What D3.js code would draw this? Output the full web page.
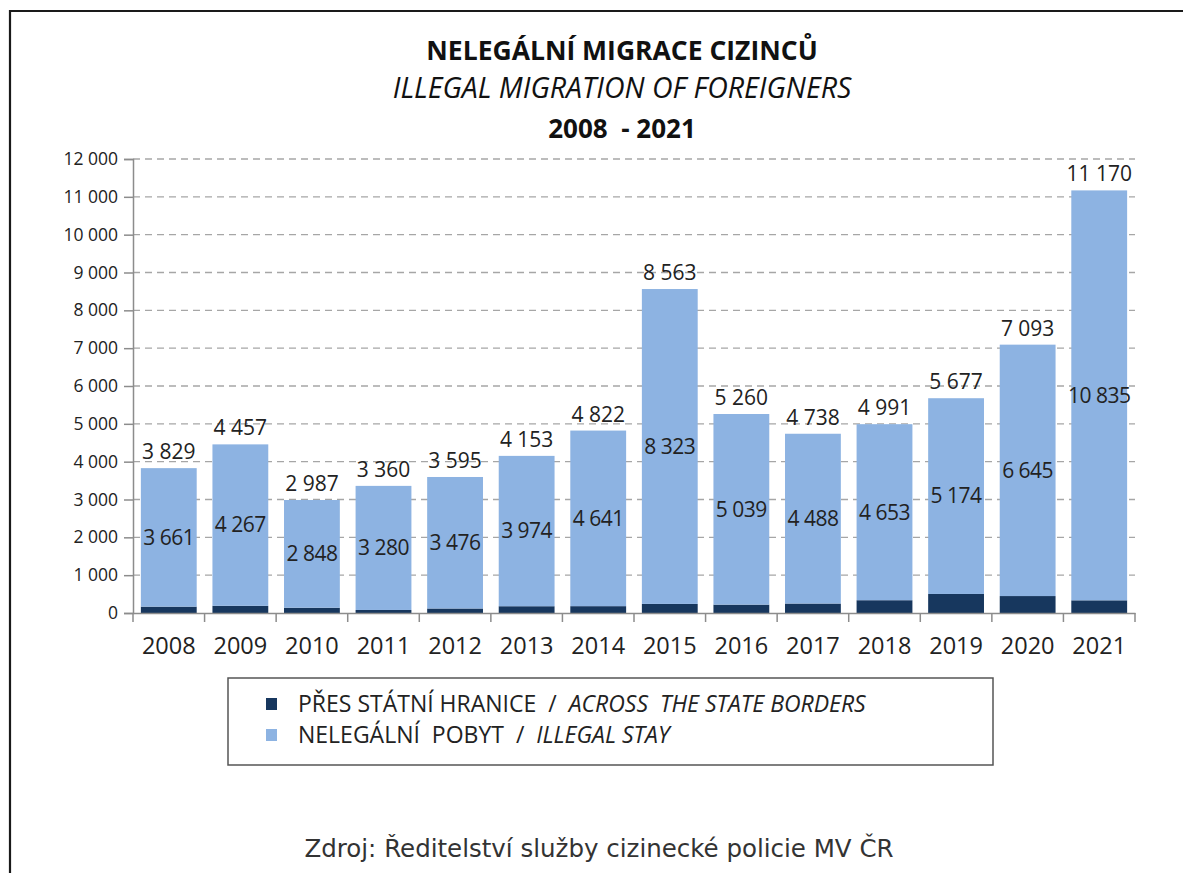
<!DOCTYPE html>
<html>
<head>
<meta charset="utf-8">
<script src="https://cdn.jsdelivr.net/npm/d3@7"></script>
<style>
  body { margin: 0; background: #fff; }
  svg { display: block; }
  .title { font-family: "Open Sans", sans-serif; fill: #111; white-space: pre; }
  .axisLabels { font-family: "Open Sans", sans-serif; fill: #222; }
  .barLabel { font-family: "Open Sans", sans-serif; font-size: 21px; fill: #222; }
  .legendText { font-family: "Open Sans", sans-serif; font-size: 23px; fill: #222; white-space: pre; }
  .source { font-family: "DejaVu Sans", sans-serif; font-size: 24.5px; fill: #333; }
</style>
</head>
<body>
<div id="chart"></div>
<script>
// data
var years = ["2008", "2009", "2010", "2011", "2012", "2013", "2014", "2015", "2016", "2017", "2018", "2019", "2020", "2021"];
var totals = [3829, 4457, 2987, 3360, 3595, 4153, 4822, 8563, 5260, 4738, 4991, 5677, 7093, 11170];
var illegalStay = [3661, 4267, 2848, 3280, 3476, 3974, 4641, 8323, 5039, 4488, 4653, 5174, 6645, 10835];
var yTicks = [0, 1000, 2000, 3000, 4000, 5000, 6000, 7000, 8000, 9000, 10000, 11000, 12000];
var seriesNames = [
  ["PŘES STÁTNÍ HRANICE", "ACROSS  THE STATE BORDERS"],
  ["NELEGÁLNÍ  POBYT", "ILLEGAL STAY"]
];
var colors = ["#17375e", "#8db3e2"];

var width = 1183, height = 873;
var margin = { top: 159, right: 48, bottom: 260, left: 133 };
var plotW = width - margin.left - margin.right;
var plotH = height - margin.top - margin.bottom;

var cz = d3.formatLocale({ decimal: ",", thousands: " ", grouping: [3], currency: ["", ""] });
var fmt = cz.format(",d");

// build stacked rows: borders = total - illegal stay
var data = years.map(function(y, i) {
  return { year: y, borders: totals[i] - illegalStay[i], stay: illegalStay[i], total: totals[i] };
});

var svg = d3.select("#chart").append("svg")
  .attr("width", width)
  .attr("height", height);

// outer frame (cut at right and bottom)
svg.append("path")
  .attr("d", "M10," + height + "V11H" + width)
  .attr("fill", "none")
  .attr("stroke", "#1a1a1a")
  .attr("stroke-width", 2.2);

var g = svg.append("g")
  .attr("transform", "translate(" + margin.left + "," + margin.top + ")");

var x = d3.scaleBand().domain(years).range([0, plotW]).paddingInner(0.22).paddingOuter(0.11);
var y = d3.scaleLinear().domain([0, 12000]).range([plotH, 0]);

// gridlines
g.append("g")
  .selectAll("line")
  .data(yTicks.slice(1))
  .enter().append("line")
    .attr("x1", 0)
    .attr("x2", plotW)
    .attr("y1", function(d) { return y(d); })
    .attr("y2", function(d) { return y(d); })
    .attr("stroke", "#a6a6a6")
    .attr("stroke-width", 1.3)
    .attr("stroke-dasharray", "7,5");

var stack = d3.stack().keys(["borders", "stay"]);
var series = stack(data);

g.append("g")
  .selectAll("g")
  .data(series)
  .enter().append("g")
    .attr("fill", function(d, i) { return colors[i]; })
  .selectAll("rect")
  .data(function(d) { return d; })
  .enter().append("rect")
    .attr("x", function(d) { return x(d.data.year); })
    .attr("width", x.bandwidth())
    .attr("y", function(d) { return y(d[1]); })
    .attr("height", function(d) { return y(d[0]) - y(d[1]); });

// Y axis
var yAxis = g.append("g")
  .attr("class", "yaxis")
  .call(d3.axisLeft(y).tickValues(yTicks).tickFormat(fmt).tickSize(9).tickPadding(6));
yAxis.select(".domain").attr("stroke", "#8c8c8c").attr("stroke-width", 1.5);
yAxis.selectAll(".tick line").attr("stroke", "#8c8c8c").attr("stroke-width", 1.5);
yAxis.selectAll("text").attr("class", "axisLabels").style("font-size", "17.5px");

// X axis (ticks at category boundaries)
var xAxis = g.append("g")
  .attr("class", "xaxis")
  .attr("transform", "translate(0," + plotH + ")")
  .call(d3.axisBottom(x).tickSize(0));
xAxis.select(".domain").attr("stroke", "#8c8c8c").attr("stroke-width", 1.5);
xAxis.selectAll("text")
  .attr("class", "axisLabels")
  .attr("y", 41)
  .attr("dy", 0)
  .style("font-size", "23.5px");

var step = x.step();
var bounds = d3.range(years.length + 1).map(function(i) { return x.range()[0] + i * step; });
xAxis.selectAll(".bound")
  .data(bounds)
  .enter().append("line")
    .attr("class", "bound")
    .attr("x1", function(d) { return d; })
    .attr("x2", function(d) { return d; })
    .attr("y1", 0)
    .attr("y2", 9)
    .attr("stroke", "#8c8c8c")
    .attr("stroke-width", 1.5);

// total labels above bars
g.append("g")
  .selectAll("text")
  .data(data)
  .enter().append("text")
    .attr("class", "barLabel")
    .attr("x", function(d) { return x(d.year) + x.bandwidth() / 2; })
    .attr("y", function(d) { return y(d.total) - 9; })
    .attr("text-anchor", "middle")
    .text(function(d) { return fmt(d.total); });

// illegal stay labels in the middle of the light segment
g.append("g")
  .selectAll("text")
  .data(data)
  .enter().append("text")
    .attr("class", "barLabel")
    .attr("x", function(d) { return x(d.year) + x.bandwidth() / 2; })
    .attr("y", function(d) { return y(d.borders + d.stay / 2); })
    .attr("dy", "0.35em")
    .attr("text-anchor", "middle")
    .style("letter-spacing", "-0.5px")
    .text(function(d) { return fmt(d.stay); });

// titles
var cx = 622;
svg.append("text").attr("class", "title")
  .attr("x", cx).attr("y", 60)
  .attr("text-anchor", "middle")
  .style("font-size", "26.5px").style("font-weight", "bold")
  .text("NELEGÁLNÍ MIGRACE CIZINCŮ");
svg.append("text").attr("class", "title")
  .attr("x", cx).attr("y", 98)
  .attr("text-anchor", "middle")
  .style("font-size", "28.5px").style("font-style", "italic")
  .text("ILLEGAL MIGRATION OF FOREIGNERS");
svg.append("text").attr("class", "title")
  .attr("x", cx).attr("y", 138)
  .attr("text-anchor", "middle")
  .style("font-size", "26px").style("font-weight", "bold")
  .text("2008  - 2021");

// legend
var legend = svg.append("g").attr("transform", "translate(228,678)");
legend.append("rect")
  .attr("width", 765)
  .attr("height", 87)
  .attr("fill", "#fff")
  .attr("stroke", "#555")
  .attr("stroke-width", 1.5);

var items = legend.selectAll(".item")
  .data(seriesNames)
  .enter().append("g")
    .attr("class", "item")
    .attr("transform", function(d, i) { return "translate(38," + (26 + i * 31) + ")"; });
items.append("rect")
  .attr("x", 0).attr("y", -6)
  .attr("width", 11).attr("height", 12)
  .attr("fill", function(d, i) { return colors[i]; });
var lt = items.append("text")
  .attr("class", "legendText")
  .attr("x", 32)
  .attr("dy", "0.35em");
lt.append("tspan").text(function(d) { return d[0] + "  /  "; });
lt.append("tspan").style("font-style", "italic").text(function(d) { return d[1]; });

// source
svg.append("text")
  .attr("class", "source")
  .attr("x", 599)
  .attr("y", 857)
  .attr("text-anchor", "middle")
  .text("Zdroj: Ředitelství služby cizinecké policie MV ČR");
</script>
</body>
</html>
